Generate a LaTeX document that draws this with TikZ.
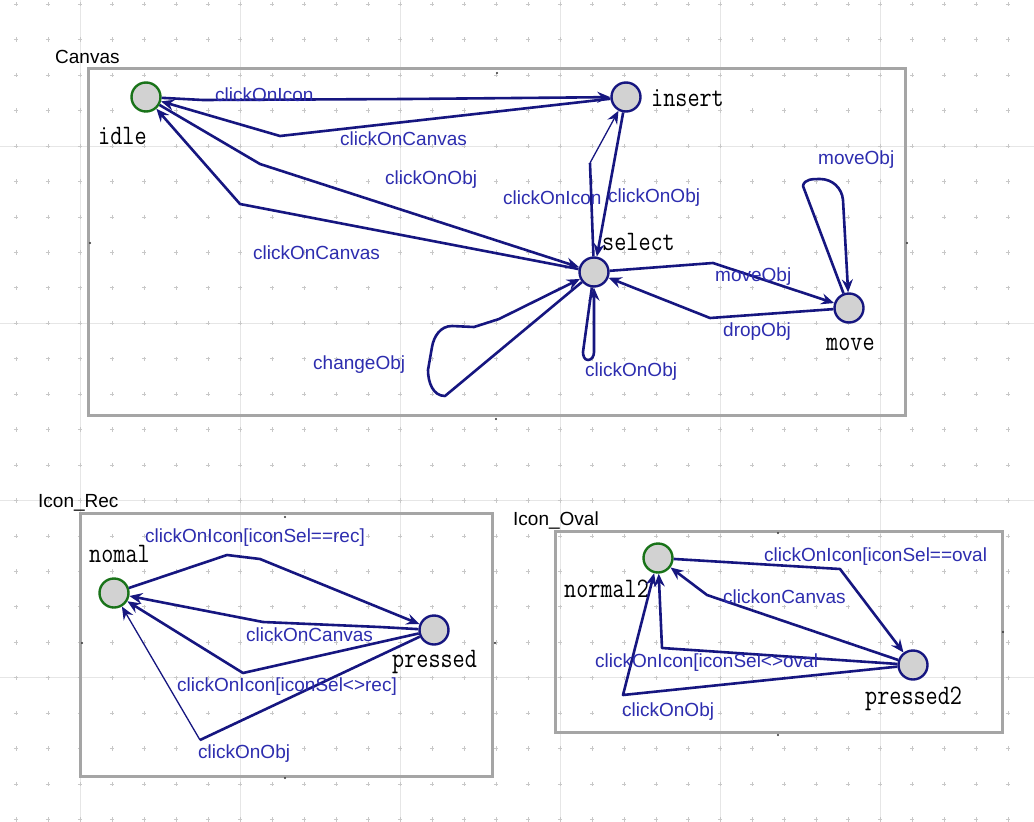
\documentclass[tikz,border=0pt]{standalone}
\usepackage{fontspec}
\setmainfont{Liberation Sans}
\usetikzlibrary{arrows.meta}
\definecolor{edgecol}{RGB}{22,22,128}
\definecolor{labcol}{RGB}{45,45,175}
\definecolor{boxcol}{RGB}{165,165,165}
\definecolor{gridcol}{RGB}{230,230,230}
\definecolor{dotcol}{RGB}{200,200,200}
\definecolor{initcol}{RGB}{25,115,25}
\definecolor{nodefill}{RGB}{210,210,210}
\newcommand{\locn}[1]{\scalebox{1}[1.2]{#1}}
\tikzset{
  loc/.style={circle, draw=edgecol, fill=nodefill, line width=2.4pt, minimum size=29pt, inner sep=0pt},
  initloc/.style={loc, draw=initcol},
  locname/.style={font=\ttfamily\fontsize{23.5}{26}\selectfont, text=black, inner sep=0pt, anchor=west},
  elab/.style={font=\fontsize{19}{22}\selectfont, text=labcol, inner sep=0pt, anchor=west},
  tname/.style={font=\fontsize{19}{22}\selectfont, text=black, inner sep=0pt, anchor=west},
  tbox/.style={draw=boxcol, line width=3pt, rectangle, inner sep=0pt},
  edge/.style={draw=edgecol, line width=2.6pt, line join=round, -{Stealth[length=13pt,width=11pt,inset=4.5pt]}},
  plainedge/.style={draw=edgecol, line width=2.6pt, line join=round},
  thinedge/.style={draw=edgecol, line width=1.3pt, line join=round, -{Stealth[length=13pt,width=11pt,inset=4.5pt]}},
}
\begin{document}
\begin{tikzpicture}[x=1pt,y=-1pt]
\useasboundingbox (0,0) rectangle (1034,822);
\fill[white] (0,0) rectangle (1034,822);
% grid
\foreach \gx in {80,240,400,560,720,880}
  \draw[gridcol, line width=1pt] (\gx,0) -- (\gx,822);
\foreach \gy in {146,323.25,500.5,677.75}
  \draw[gridcol, line width=1pt] (0,\gy) -- (1034,\gy);
\foreach \i in {0,...,31}
  \foreach \j in {0,...,23}
    \draw[dotcol, line width=0.8pt] ({16+32*\i-2.2},{4.2+35.45*\j}) -- ++(4.4,0)
      ({16+32*\i},{4.2+35.45*\j-2.2}) -- ++(0,4.4);

% template boxes
\node[tbox, minimum width=817pt, minimum height=347pt] (canvasbox) at (496.5,241.5) {};
\node[tbox, minimum width=412pt, minimum height=263pt] (recbox) at (286,644.5) {};
\node[tbox, minimum width=447pt, minimum height=201pt] (ovalbox) at (778.5,631.5) {};
\node[tname] (tcanvas) at (55,57) {Canvas};
\node[tname] (trec) at (38,503) {Icon\_Rec};
\node[tname] (toval) at (513,520) {Icon\_Oval};
% small side marks
\foreach \mx/\my in {497/73,496/419,90/243,907/243,285/517,285/778,82/643,495/643,778/533,778/735,1003/632}
  \fill[black!80] (\mx,\my) circle (1.1pt);

% locations
\node[initloc] (idle) at (146,97) {};
\node[loc] (insert) at (626,97) {};
\node[loc] (select) at (594,272) {};
\node[loc] (move) at (849,308) {};
\node[initloc] (nomal) at (114,593) {};
\node[loc] (pressed) at (434,630) {};
\node[initloc] (normal2) at (658,558) {};
\node[loc] (pressed2) at (913,665) {};

\node[locname] (nidle) at (98,136) {\locn{idle}};
\node[locname] (ninsert) at (651,98) {\locn{insert}};
\node[locname] (nselect) at (602,242) {\locn{select}};
\node[locname] (nmove) at (826,344) {\locn{move}};
\node[locname] (nnomal) at (89,554) {\locn{nomal}};
\node[locname] (npressed) at (392,662) {\locn{pressed}};
\node[locname] (nnormal2) at (564,589) {\locn{normal2}};
\node[locname] (npressed2) at (865,699) {\locn{pressed2}};

% Canvas edges
\draw[edge] (idle) -- (203,100) -- (407,99) -- (insert);
\draw[edge] (insert) -- (280,136) -- (idle);
\draw[edge] (idle) -- (260,164) -- (select);
\draw[edge] (select) -- (240,204) -- (idle);
\coordinate (c5) at (590,163);
\draw[plainedge] (select) -- (c5);
\draw[thinedge] (c5) -- (insert);
\draw[edge] (insert) -- (select);
\draw[edge] (select) -- (713,263) -- (move);
\draw[edge] (move) -- (710,318) -- (select);
\draw[edge] (move) -- (803,186) to[out=80,in=180] (820,179) to[out=0,in=95] (843,200) -- (move);
\draw[edge] (select) -- (583,352) to[out=-90,in=180] (588,360) to[out=0,in=-90] (594,352) -- (select);
\draw[edge] (select) -- (445,396) to[out=180,in=-90] (428,370) -- (432,347) to[out=80,in=180] (452,326) -- (474,327) -- (499,319) -- (select);

\node[elab] (l1) at (215,95) {clickOnIcon};
\node[elab] (l2) at (340,139) {clickOnCanvas};
\node[elab] (l3) at (385,180) {clickOnObj};
\node[elab] (l4) at (253,253) {clickOnCanvas};
\node[elab] (l5) at (503,198) {clickOnIcon};
\node[elab] (l6) at (608,198) {clickOnObj};
\node[elab] (l7) at (715,277) {moveObj};
\node[elab] (l8) at (723,332) {dropObj};
\node[elab] (l9) at (818,160) {moveObj};
\node[elab] (l10) at (585,372) {clickOnObj};
\node[elab] (l11) at (313,365) {changeObj};

% Icon_Rec edges
\draw[edge] (nomal) -- (227,555) -- (260,559) -- (pressed);
\draw[edge] (pressed) -- (380,627) -- (263,622) -- (nomal);
\draw[edge] (pressed) -- (243,673) -- (nomal);
\coordinate (r4) at (200,740);
\draw[plainedge] (pressed) -- (r4);
\draw[thinedge] (r4) -- (nomal);
\node[elab] (lr1) at (145,538) {clickOnIcon[iconSel==rec]};
\node[elab] (lr2) at (246,635) {clickOnCanvas};
\node[elab] (lr3) at (177,687) {clickOnIcon[iconSel<>rec]};
\node[elab] (lr4) at (198,754) {clickOnObj};

% Icon_Oval edges
\draw[edge] (normal2) -- (840,569) -- (pressed2);
\draw[edge] (pressed2) -- (707,595) -- (normal2);
\draw[edge] (pressed2) -- (662,648) -- (normal2);
\draw[edge] (pressed2) -- (623,695) -- (normal2);
\node[elab] (lo1) at (764,557) {clickOnIcon[iconSel==oval};
\node[elab] (lo2) at (723,597) {clickonCanvas};
\node[elab] (lo3) at (595,663) {clickOnIcon[iconSel<>oval};
\node[elab] (lo4) at (622,712) {clickOnObj};
\end{tikzpicture}
\end{document}
